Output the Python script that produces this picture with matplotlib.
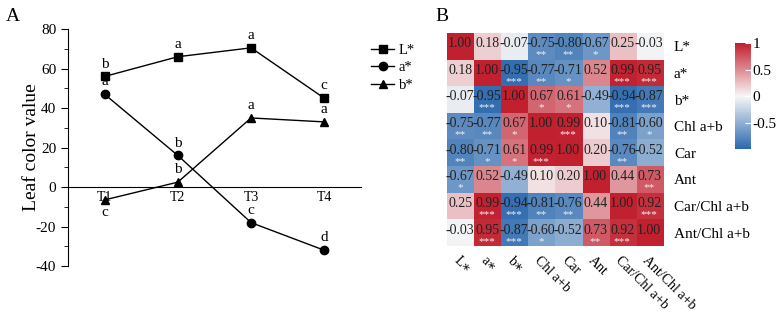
import matplotlib
matplotlib.use('Agg')
import matplotlib.pyplot as plt
import numpy as np
from matplotlib.colors import LinearSegmentedColormap
from matplotlib.ticker import MultipleLocator

plt.rcParams['font.family'] = ['Liberation Serif', 'DejaVu Serif']
plt.rcParams['axes.unicode_minus'] = False

# panel A data
stages = ['T1', 'T2', 'T3', 'T4']
L_vals = [56, 66, 70.5, 45]
a_vals = [47, 16, -18, -32]
b_vals = [-6.5, 2.5, 35, 33]
L_sig = ['b', 'a', 'a', 'c']
a_sig = ['a', 'b', 'c', 'd']
b_sig = ['c', 'b', 'a', 'a']

# panel B data
row_names = ['L*', 'a*', 'b*', 'Chl a+b', 'Car', 'Ant', 'Car/Chl a+b', 'Ant/Chl a+b']
col_names = ['L\u2217', 'a\u2217', 'b\u2217', 'Chl a+b', 'Car', 'Ant', 'Car/Chl a+b', 'Ant/Chl a+b']
corr = [
    [1.00, 0.18, -0.07, -0.75, -0.80, -0.67, 0.25, -0.03],
    [0.18, 1.00, -0.95, -0.77, -0.71, 0.52, 0.99, 0.95],
    [-0.07, -0.95, 1.00, 0.67, 0.61, -0.49, -0.94, -0.87],
    [-0.75, -0.77, 0.67, 1.00, 0.99, 0.10, -0.81, -0.60],
    [-0.80, -0.71, 0.61, 0.99, 1.00, 0.20, -0.76, -0.52],
    [-0.67, 0.52, -0.49, 0.10, 0.20, 1.00, 0.44, 0.73],
    [0.25, 0.99, -0.94, -0.81, -0.76, 0.44, 1.00, 0.92],
    [-0.03, 0.95, -0.87, -0.60, -0.52, 0.73, 0.92, 1.00],
]
stars = [
    ['', '', '', '**', '**', '*', '', ''],
    ['', '', '***', '**', '*', '', '***', '***'],
    ['', '***', '', '*', '*', '', '***', '***'],
    ['**', '**', '*', '', '***', '', '**', '*'],
    ['**', '*', '*', '***', '', '', '**', ''],
    ['*', '', '', '', '', '', '', '**'],
    ['', '***', '***', '**', '**', '', '', '***'],
    ['', '***', '***', '*', '', '**', '***', ''],
]

fig = plt.figure(figsize=(7.77, 3.16), dpi=100)

# ---------------- panel A ----------------
ax = fig.add_axes([0.0875, 0.158, 0.377, 0.75])
x = np.arange(1, 5)
ax.plot(x, L_vals, 'k-', marker='s', ms=5.5, lw=1, label='L*')
ax.plot(x, a_vals, 'k-', marker='o', ms=6, lw=1, label='a*')
ax.plot(x, b_vals, 'k-', marker='^', ms=6, lw=1, label='b*')

for xi, v, s in zip(x, L_vals, L_sig):
    ax.text(xi, v + 3, s, ha='center', va='bottom', fontsize=11)
for xi, v, s in zip(x, a_vals, a_sig):
    ax.text(xi, v + 3, s, ha='center', va='bottom', fontsize=11)
for i, (xi, v, s) in enumerate(zip(x, b_vals, b_sig)):
    if i == 0:
        ax.text(xi, v - 3, s, ha='center', va='top', fontsize=11)
    else:
        ax.text(xi, v + 3, s, ha='center', va='bottom', fontsize=11)

ax.set_xlim(0.5, 4.5)
ax.set_ylim(-40, 80)
ax.set_xticks(x)
ax.set_xticklabels(stages, fontsize=9.5)
ax.spines['top'].set_visible(False)
ax.spines['right'].set_visible(False)
ax.spines['bottom'].set_position(('data', 0))
ax.tick_params(axis='x', length=0, pad=3)
ax.yaxis.set_major_locator(MultipleLocator(20))
ax.yaxis.set_minor_locator(MultipleLocator(10))
ax.tick_params(axis='y', which='major', length=5, labelsize=11)
ax.tick_params(axis='y', which='minor', length=3)
ax.set_ylabel('Leaf color value', fontsize=14, labelpad=-3)
ax.legend(loc='upper left', bbox_to_anchor=(1.01, 0.97), frameon=False,
          fontsize=10.5, handlelength=1.6, handletextpad=0.3, labelspacing=0.3,
          borderpad=0)
fig.text(0.008, 0.975, 'A', fontsize=14, va='top')

# ---------------- panel B ----------------
cmap = LinearSegmentedColormap.from_list('rb', ['#2A68AE', '#F7F7F7', '#C1202F'])
hx = fig.add_axes([0.575, 0.2215, 0.278, 0.674])
data = np.array(corr)
im = hx.imshow(data, cmap=cmap, vmin=-1, vmax=1, aspect='auto')
n = len(row_names)
for i in range(n):
    for j in range(n):
        hx.text(j, i - 0.1, '%.2f' % data[i, j], ha='center', va='center',
                fontsize=10, color='#222222')
        if stars[i][j]:
            hx.text(j, i + 0.32, stars[i][j], ha='center', va='center',
                    fontsize=8, color='#F0F0F0')
hx.set_xticks(range(n))
hx.set_yticks(range(n))
hx.set_xticklabels(col_names, rotation=-45, ha='left', va='top',
                   rotation_mode='anchor', fontsize=10)
hx.set_yticklabels(row_names, fontsize=11)
hx.yaxis.tick_right()
hx.tick_params(length=0, pad=8)
hx.tick_params(axis='x', pad=6)
for sp in hx.spines.values():
    sp.set_visible(False)
fig.text(0.56, 0.975, 'B', fontsize=14, va='top')

cax = fig.add_axes([0.946, 0.528, 0.0206, 0.335])
cb = fig.colorbar(im, cax=cax, ticks=[-0.5, 0, 0.5, 1])
cb.outline.set_visible(False)
cb.ax.set_yticklabels(['-0.5', '0', '0.5', '1'])
cb.ax.tick_params(length=4, color='white', direction='in', labelsize=11, pad=1)

fig.savefig('out.png', dpi=100)
